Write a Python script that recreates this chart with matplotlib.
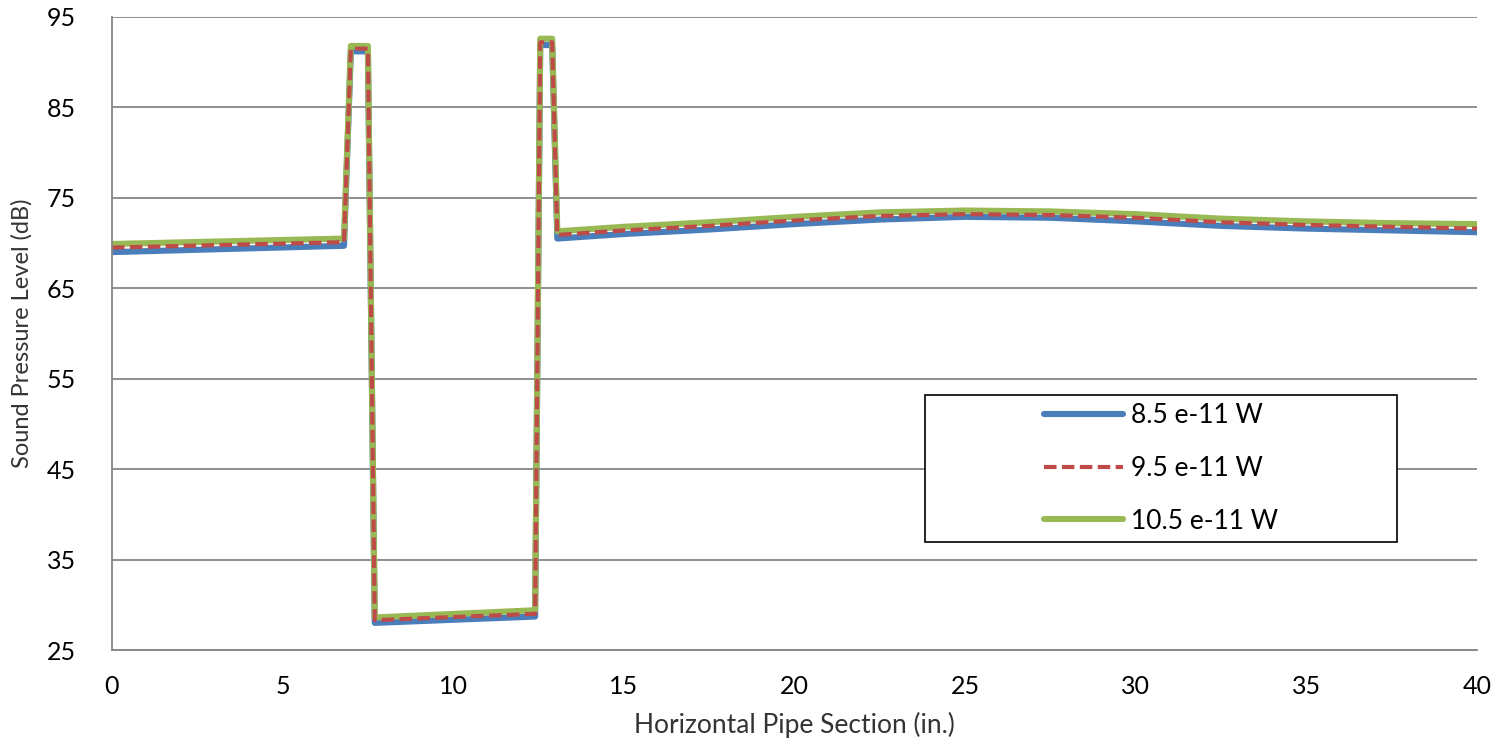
import numpy as np
import matplotlib.pyplot as plt
from matplotlib.patches import Rectangle

plt.rcParams['font.family'] = ['Lato', 'DejaVu Sans']

# sampled positions along the pipe (in.)
x_in = [0, 6.8, 7.0, 7.5, 7.7, 12.4, 12.55, 12.9, 13.05,
		15, 17.5, 20, 22.5, 25, 27.5, 30, 32.5, 35, 37.5, 40]

spl_85 = [69.0, 69.7, 91.2, 91.2, 28.0, 28.7, 91.9, 91.9, 70.5,
		71.0, 71.5, 72.1, 72.6, 72.9, 72.8, 72.4, 71.9, 71.6, 71.4, 71.2]
spl_95 = [69.5, 70.1, 91.5, 91.5, 28.3, 29.0, 92.2, 92.2, 70.9,
		71.4, 71.9, 72.5, 73.0, 73.2, 73.1, 72.8, 72.3, 72.0, 71.8, 71.6]
spl_105 = [69.9, 70.5, 91.8, 91.8, 28.6, 29.4, 92.6, 92.6, 71.3,
		71.8, 72.3, 72.9, 73.4, 73.6, 73.5, 73.2, 72.7, 72.4, 72.2, 72.1]

labels = ['8.5 e-11 W', '9.5 e-11 W', '10.5 e-11 W']

fig = plt.figure(figsize=(14.99, 7.39), dpi=100)
ax = fig.add_axes([0.0747, 0.1204, 0.9106, 0.8566])

ax.plot(x_in, spl_85, color='#4A7EBB', lw=4.4, label=labels[0], solid_capstyle='round')
ax.plot(x_in, spl_105, color='#98B954', lw=4.4, label=labels[2], solid_capstyle='round')
ax.plot(x_in, spl_95, color='#BE4B48', lw=3.0, ls=(0, (3, 1.3)), label=labels[1])

ax.set_xlim(0, 40)
ax.set_ylim(25, 95)
ax.set_xticks(np.arange(0, 41, 5))
ax.set_yticks(np.arange(25, 96, 10))
ax.grid(axis='y', color='#868686', lw=1.3)
ax.set_axisbelow(True)
ax.tick_params(length=0, labelsize=18, colors='#000000')
ax.tick_params(axis='x', pad=18)
ax.tick_params(axis='y', pad=26)
for s in ['top', 'right']:
	ax.spines[s].set_visible(False)
ax.spines['left'].set_color('#868686')
ax.spines['bottom'].set_color('#868686')
ax.spines['left'].set_linewidth(1.3)
ax.spines['bottom'].set_linewidth(1.3)

ax.set_xlabel('Horizontal Pipe Section (in.)', fontsize=19, color='#333333')
ax.set_ylabel('Sound Pressure Level (dB)', fontsize=17, color='#333333')
ax.xaxis.set_label_coords(0.5, -0.097)
ax.yaxis.set_label_coords(-0.058, 0.5)

# legend box drawn separately so it matches the reference frame size
box = Rectangle((0.5956, 0.171), 0.3458, 0.232, transform=ax.transAxes,
				facecolor='white', edgecolor='black', lw=1.2, zorder=5)
ax.add_patch(box)
h, l = ax.get_legend_handles_labels()
leg = ax.legend([h[0], h[2], h[1]], [labels[0], labels[1], labels[2]],
				loc='center', bbox_to_anchor=(0.5956, 0.171, 0.3458, 0.232),
				frameon=False, fontsize=19, handlelength=3.0, handletextpad=0.3,
				labelspacing=1.05)
leg.set_zorder(6)

fig.savefig('out.png', dpi=100)
